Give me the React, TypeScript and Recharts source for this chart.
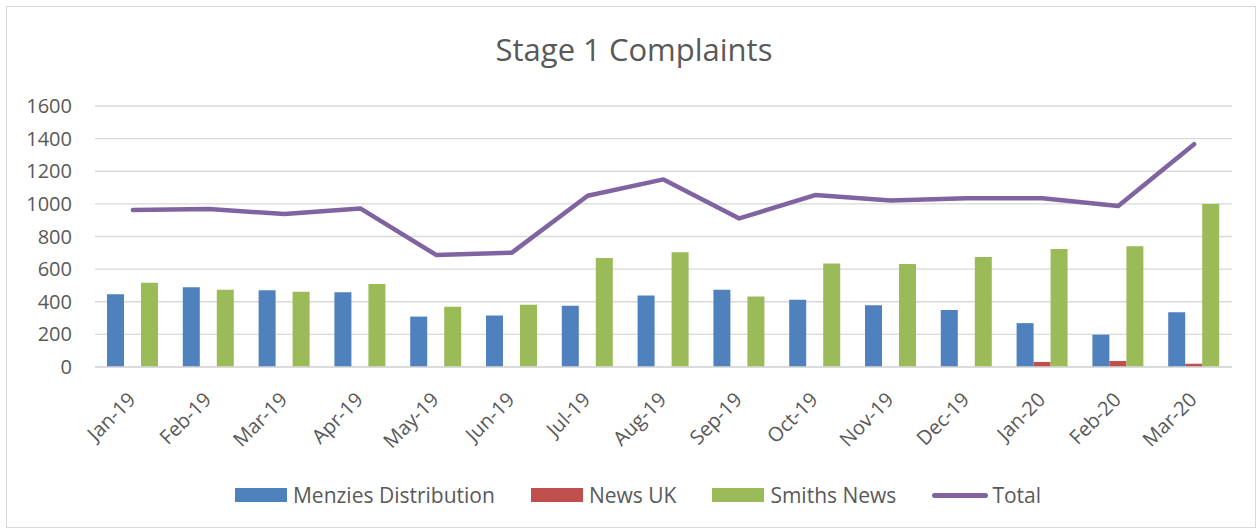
import React from 'react';
import { ComposedChart, Bar, Line, XAxis, YAxis, CartesianGrid, Legend } from 'recharts';

const months = ['Jan-19', 'Feb-19', 'Mar-19', 'Apr-19', 'May-19', 'Jun-19', 'Jul-19', 'Aug-19', 'Sep-19', 'Oct-19', 'Nov-19', 'Dec-19', 'Jan-20', 'Feb-20', 'Mar-20'];
const menzies = [446, 489, 471, 459, 309, 316, 375, 438, 473, 413, 379, 350, 269, 198, 336];
const newsUk = [0, 0, 0, 0, 0, 0, 0, 0, 0, 0, 0, 0, 31, 37, 20];
const smiths = [516, 473, 462, 509, 369, 381, 668, 703, 432, 634, 632, 675, 724, 740, 999];
const total = [962, 968, 938, 972, 687, 701, 1050, 1150, 911, 1054, 1020, 1035, 1035, 987, 1366];
const yTicks = [0, 200, 400, 600, 800, 1000, 1200, 1400, 1600];

const FONT = '"Open Sans", sans-serif';
const TEXT = '#595959';
const GRID = '#d9d9d9';

const seriesInfo = [
  { key: 'menzies', name: 'Menzies Distribution', color: '#4F81BD', type: 'bar' },
  { key: 'newsUk', name: 'News UK', color: '#C0504D', type: 'bar' },
  { key: 'smiths', name: 'Smiths News', color: '#9BBB59', type: 'bar' },
  { key: 'total', name: 'Total', color: '#8064A2', type: 'line' },
];

const data = months.map((m, i) => ({
  month: m,
  menzies: menzies[i],
  newsUk: newsUk[i],
  smiths: smiths[i],
  total: total[i],
}));

// etiquetas del eje X giradas 45 grados como en Excel
function MonthTick(props: any) {
  const { x, y, payload } = props;
  return (
    <g transform={`translate(${x + 4},${y + 26})`}>
      <text x={0} y={0} textAnchor="end" transform="rotate(-45)" fill={TEXT} fontSize={20} fontFamily={FONT}>
        {payload.value}
      </text>
    </g>
  );
}

function LegendBox() {
  return (
    <div style={{ display: 'flex', justifyContent: 'center', alignItems: 'center', fontFamily: FONT, fontSize: 21, color: TEXT, paddingLeft: 16 }}>
      {seriesInfo.map((s) => (
        <div key={s.key} style={{ display: 'flex', alignItems: 'center', margin: '0 18px' }}>
          {s.type === 'bar' ? (
            <div style={{ width: 52, height: 14, background: s.color, marginRight: 6 }} />
          ) : (
            <div style={{ width: 56, height: 5, borderRadius: 3, background: s.color, marginRight: 4 }} />
          )}
          <span>{s.name}</span>
        </div>
      ))}
    </div>
  );
}

export default function App() {
  return (
    <div style={{ position: 'absolute', left: 0, top: 0, width: 1260, height: 531, background: '#fff' }}>
      <div style={{ position: 'absolute', left: 6, top: 6, width: 1248, height: 520, border: `1px solid ${GRID}` }} />
      <div style={{ position: 'absolute', left: 0, top: 34, width: 1268, textAlign: 'center', fontFamily: FONT, fontSize: 31, lineHeight: '31px', color: TEXT }}>
        Stage 1 Complaints
      </div>
      <div style={{ position: 'absolute', left: 0, top: 0 }}>
        <ComposedChart width={1260} height={531} data={data} margin={{ top: 106, right: 28, bottom: 0, left: 0 }} barGap={0} barSize={17}>
          <CartesianGrid vertical={false} stroke={GRID} strokeWidth={1.3} />
          <XAxis dataKey="month" height={164} tickLine={false} axisLine={{ stroke: GRID, strokeWidth: 1.3 }} tick={<MonthTick />} interval={0} />
          <YAxis width={95} domain={[0, 1600]} ticks={yTicks} tickLine={false} axisLine={false} tickMargin={17} tick={{ fill: TEXT, fontSize: 20, fontFamily: FONT }} />
          <Legend verticalAlign="middle" align="center" layout="horizontal" content={<LegendBox />} wrapperStyle={{ top: 481, left: 0, width: 1260 }} />
          <Bar dataKey="menzies" name="Menzies Distribution" fill="#4F81BD" isAnimationActive={false} />
          <Bar dataKey="newsUk" name="News UK" fill="#C0504D" isAnimationActive={false} />
          <Bar dataKey="smiths" name="Smiths News" fill="#9BBB59" isAnimationActive={false} />
          <Line dataKey="total" name="Total" stroke="#8064A2" strokeWidth={4.5} strokeLinecap="round" strokeLinejoin="round" dot={false} activeDot={false} isAnimationActive={false} />
        </ComposedChart>
      </div>
    </div>
  );
}
